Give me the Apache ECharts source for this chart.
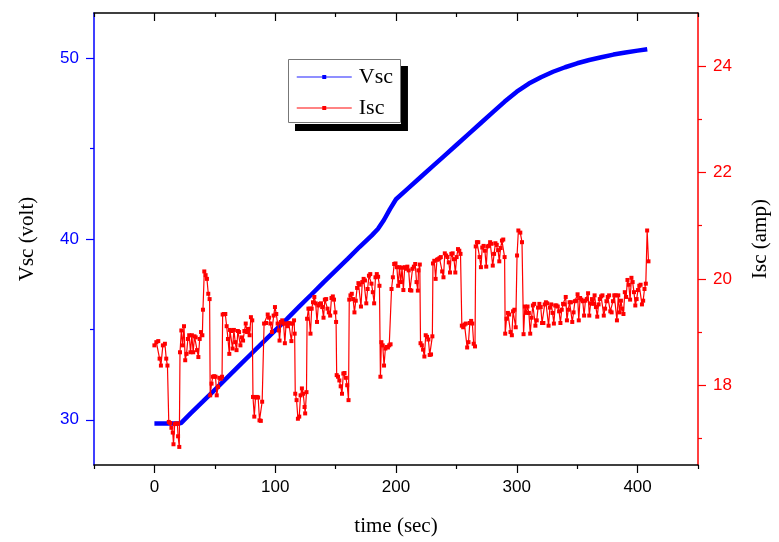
<!DOCTYPE html>
<html><head><meta charset="utf-8">
<script src="https://cdn.jsdelivr.net/npm/echarts@6/dist/echarts.min.js"></script>
<style>html,body{margin:0;padding:0;background:#fff;overflow:hidden}#c{width:779px;height:542px}</style>
</head><body><div id="c"></div>
<script>
// ---- data ----
const vscTime = [0,10,20,22,30,40,50,60,70,80,90,100,110,120,130,140,150,160,170,180,185,190,195,200,210,220,230,240,250,260,270,280,290,300,310,320,330,340,350,360,370,380,390,400,408];
const vscValue = [29.8,29.8,29.8,29.82,30.35,31.0,31.66,32.32,32.98,33.64,34.3,34.95,35.6,36.27,36.93,37.6,38.25,38.9,39.57,40.2,40.55,41.05,41.65,42.2,42.8,43.4,44.0,44.6,45.2,45.8,46.4,47.0,47.6,48.15,48.6,48.95,49.25,49.5,49.72,49.9,50.05,50.2,50.32,50.42,50.5];

const iscTime = [0,1.6,3.2,4.3,5.4,7.0,8.7,9.8,10.8,11.9,13.0,14.1,15.2,15.8,16.8,17.9,19.0,19.6,20.6,
21.2,22.3,23.4,24.5,25.5,26.6,27.7,28.8,29.9,31.0,32.1,33.2,34.2,35.3,36.4,37.5,38.6,39.7,40.2,41.3,42.4,43.5,44.6,45.7,
46.2,47.3,48.4,49.5,50.6,51.6,52.7,53.8,54.9,56.0,
56.5,57.6,58.7,59.8,60.9,62.0,62.5,63.6,64.7,65.8,66.9,68.0,69.1,70.1,71.2,72.3,73.4,74.5,75.6,76.7,77.8,78.8,79.9,81.0,
81.6,82.7,83.7,84.8,85.9,87.0,88.1,89.2,
90.8,92.4,93.8,94.9,96.0,97.3,98.7,99.8,100.9,102.0,103.0,103.6,104.7,105.8,106.9,108.0,109.0,110.1,111.2,112.3,113.4,114.5,115.6,116.1,
116.6,117.7,118.8,119.9,121.0,122.1,123.2,124.3,124.8,125.9,
126.4,127.5,128.6,129.2,130.2,131.3,132.4,133.5,134.6,135.7,136.8,137.9,138.9,140.0,141.1,142.2,143.3,144.4,145.5,146.6,147.7,148.7,149.8,150.4,
150.9,152.0,153.1,154.2,155.3,156.4,157.4,158.5,159.6,160.7,
161.3,162.3,163.4,164.5,165.6,166.7,167.8,168.9,170.0,171.0,172.1,173.2,174.3,175.4,176.5,177.6,178.7,179.7,180.8,181.9,183.0,184.1,185.2,186.3,
187.1,187.9,189.0,190.1,191.2,192.3,193.3,194.4,195.5,
196.3,197.4,198.5,199.6,200.7,201.8,202.9,204.0,205.0,206.1,207.2,208.3,209.4,210.5,211.6,212.7,213.7,214.8,215.9,217.0,218.1,218.6,219.7,
220.3,221.4,222.4,223.5,224.6,225.7,226.8,227.9,229.0,230.1,
230.6,231.7,232.8,233.9,234.9,236.0,237.1,238.2,239.3,240.4,241.5,242.6,243.7,244.7,245.8,246.9,248.0,249.1,250.2,251.3,252.4,253.4,
254.5,255.6,256.7,257.8,258.9,260.0,261.1,262.2,263.2,264.3,265.4,
266.0,267.0,268.1,269.2,270.3,271.4,272.5,273.6,274.7,275.7,276.8,277.9,279.0,280.1,281.2,282.3,283.4,284.5,285.5,286.6,287.7,288.8,289.9,
290.4,291.5,292.6,293.7,294.8,295.9,296.9,298.0,299.1,
300.2,301.3,302.9,304.3,
305.6,306.7,307.8,308.9,310.0,311.1,312.2,313.3,314.4,315.4,316.5,317.6,318.7,319.8,320.9,322.0,323.1,324.1,325.2,326.3,327.4,328.5,329.6,330.7,331.8,332.8,333.9,335.0,336.1,337.2,338.3,339.4,340.5,341.5,342.6,343.7,344.8,345.9,347.0,348.1,349.2,350.3,351.3,352.4,353.5,354.6,355.7,356.8,357.9,359.0,360.0,361.1,362.2,363.3,364.4,365.5,366.6,367.7,368.7,369.8,370.9,372.0,373.1,374.2,375.3,376.4,377.4,378.5,379.6,380.7,381.8,382.9,384.0,385.1,386.2,387.2,388.3,389.4,390.5,391.6,392.7,393.8,394.9,395.9,397.0,398.1,399.2,400.3,401.4,402.5,403.6,404.6,405.7,406.8,407.9,409.0];

const iscValue = [18.75,18.81,18.83,18.5,18.37,18.75,18.78,18.5,18.37,17.31,17.29,17.2,17.11,16.89,17.27,17.28,17.28,17.04,16.84,
18.62,19.03,18.75,19.11,18.47,18.59,18.87,18.94,18.62,18.94,18.62,18.92,18.9,18.66,18.53,18.87,19.0,18.94,19.42,20.14,20.07,20.0,19.72,19.62,
17.81,18.03,18.16,18.17,18.16,17.81,17.97,18.14,18.12,18.16,
19.33,19.34,19.34,19.11,18.87,18.59,19.04,19.02,18.69,19.04,18.81,18.66,19.02,19.0,18.75,18.9,18.84,19.02,19.16,19.0,19.06,18.94,19.28,19.22,
17.78,17.41,17.77,17.78,17.77,17.34,17.33,17.69,
19.16,19.17,19.33,19.27,19.16,19.0,19.31,19.47,19.34,19.16,19.03,18.84,19.19,19.22,19.16,18.79,19.16,19.11,19.17,19.16,18.83,19.16,19.22,18.97,
17.84,17.72,17.37,17.41,17.81,17.94,17.84,17.59,17.47,17.87,
19.25,19.44,19.44,18.97,19.44,19.56,19.66,19.54,19.19,19.5,19.53,19.54,19.47,19.27,19.61,19.62,19.44,19.37,19.31,19.64,19.67,19.61,19.37,19.19,
18.19,18.16,18.09,17.98,17.84,18.22,18.23,18.14,18.0,17.72,
19.61,19.69,19.72,19.62,19.37,19.59,19.83,19.92,19.89,19.48,19.94,20.0,19.97,19.54,19.81,20.06,20.09,19.91,19.75,19.54,20.03,20.09,20.04,19.87,
18.16,18.81,18.75,18.37,18.69,18.72,18.71,18.75,18.77,
19.81,20.03,20.28,20.29,20.22,19.87,20.22,19.94,20.21,19.79,20.22,20.19,20.23,20.16,19.79,19.78,20.19,20.23,20.28,19.94,19.78,20.16,20.27,
18.79,18.75,18.67,18.54,18.94,18.91,18.86,18.57,18.58,18.92,
20.29,20.34,20.0,20.36,20.37,20.39,20.41,20.14,20.03,20.48,20.44,20.41,20.31,20.12,20.47,20.48,20.37,20.12,20.41,20.56,20.53,20.47,
19.12,19.09,19.14,19.16,18.71,18.81,19.17,19.21,19.16,18.78,18.73,
20.61,20.69,20.69,20.41,20.22,20.59,20.62,20.53,20.23,20.61,20.62,20.69,20.66,20.25,20.47,20.67,20.64,20.54,20.33,20.58,20.72,20.74,20.41,
18.97,19.25,19.36,19.33,19.0,18.94,19.39,19.42,19.09,
20.44,20.91,20.87,20.69,
18.96,19.48,19.36,19.48,19.36,18.97,19.27,19.5,19.53,19.12,19.22,19.46,19.53,19.47,19.17,19.17,19.52,19.56,19.54,19.12,19.46,19.52,19.36,19.16,19.5,19.5,19.48,19.39,19.17,19.42,19.53,19.52,19.66,19.22,19.42,19.56,19.56,19.19,19.37,19.58,19.59,19.71,19.22,19.64,19.61,19.58,19.31,19.59,19.62,19.73,19.31,19.54,19.62,19.53,19.69,19.47,19.29,19.52,19.62,19.67,19.69,19.31,19.44,19.58,19.66,19.69,19.39,19.37,19.58,19.69,19.69,19.22,19.69,19.37,19.59,19.44,19.34,19.75,19.66,19.98,19.89,19.61,20.02,19.94,19.75,19.5,19.62,19.79,19.87,19.89,19.52,19.59,19.81,19.91,20.91,20.33];

const xMajorTicks = [0,100,200,300,400];
const xMinorTicks = [-50,50,150,250,350,450];
const vscMajorTicks = [30,40,50];
const vscMinorTicks = [35,45];
const iscMajorTicks = [18,20,22,24];
const iscMinorTicks = [17,19,21,23];

// ---- chart ----
const SANS = 'Liberation Sans, Arial, sans-serif';
const SERIF = 'Liberation Serif, Times New Roman, serif';
const BLUE = '#0000ff', RED = '#ff0000';

function xAx(pos, ticks, len, inside, showLine, labels, extra) {
  return Object.assign({
    type: 'value', position: pos, min: -50, max: 450,
    splitLine: {show: false},
    axisLine: {show: showLine, onZero: false, lineStyle: {color: '#000', width: 1.5}},
    axisTick: {show: true, customValues: ticks, length: len, inside: inside, lineStyle: {color: '#000', width: 1.2}},
    axisLabel: labels ? {show: true, customValues: labels, color: '#000', fontFamily: SANS, fontSize: 17, margin: 14} : {show: false}
  }, extra || {});
}
function yAx(pos, min, max, color, ticks, len, showLine, labels, extra) {
  return Object.assign({
    type: 'value', position: pos, min: min, max: max,
    splitLine: {show: false},
    axisLine: {show: showLine, onZero: false, lineStyle: {color: color, width: 1.5}},
    axisTick: {show: true, customValues: ticks, length: len, lineStyle: {color: color, width: 1.2}},
    axisLabel: labels ? {show: true, customValues: labels, color: color, fontFamily: SANS, fontSize: 17, margin: 15} : {show: false}
  }, extra || {});
}
const nameStyle = {fontFamily: SERIF, fontSize: 21, color: '#000'};

const chart = echarts.init(document.getElementById('c'), null, {renderer: 'canvas', width: 779, height: 542});
chart.setOption({
  animation: false,
  backgroundColor: '#fff',
  grid: {left: 94, right: 72, top: 13, bottom: 75, containLabel: false},
  xAxis: [
    xAx('bottom', xMajorTicks, 8, false, true, xMajorTicks,
        {name: 'time (sec)', nameLocation: 'middle', nameGap: 51, nameTextStyle: nameStyle}),
    xAx('bottom', xMinorTicks, 4, false, false, null),
    xAx('top', xMajorTicks, 8, true, true, null),
    xAx('top', xMinorTicks, 4, true, false, null)
  ],
  yAxis: [
    yAx('left', 27.5, 52.5, BLUE, vscMajorTicks, 8, true, vscMajorTicks,
        {name: 'Vsc (volt)', nameLocation: 'middle', nameGap: 56, nameTextStyle: nameStyle}),
    yAx('right', 16.5, 25, RED, iscMajorTicks, 8, true, iscMajorTicks,
        {name: 'Isc (amp)', nameLocation: 'middle', nameGap: 52, nameRotate: 90, nameTextStyle: nameStyle}),
    yAx('left', 27.5, 52.5, BLUE, vscMinorTicks, 4, false, null),
    yAx('right', 16.5, 25, RED, iscMinorTicks, 4, false, null)
  ],
  legend: {
    data: [
      {name: 'Vsc', lineStyle: {color: '#6a6aff', width: 1.5}},
      {name: 'Isc', lineStyle: {color: '#ff5a5a', width: 1.5}}
    ],
    orient: 'vertical', left: 288, top: 59,
    itemWidth: 55, itemHeight: 5, itemGap: 9, padding: [7, 8, 5, 8],
    backgroundColor: '#fff', borderWidth: 0,
    shadowColor: '#000', shadowOffsetX: 7, shadowOffsetY: 7, shadowBlur: 0,
    selectedMode: false,
    textStyle: {fontFamily: SERIF, fontSize: 22, color: '#000', padding: [0, 0, 0, 2]},
    lineStyle: {width: 1.5}
  },
  graphic: [{
    type: 'rect', z: 100, silent: true,
    shape: {x: 288.5, y: 59.5, width: 112, height: 63},
    style: {fill: null, stroke: '#777', lineWidth: 1}
  }],
  series: [
    {
      name: 'Vsc', type: 'line', xAxisIndex: 0, yAxisIndex: 0,
      data: vscTime.map((t, i) => [t, vscValue[i]]),
      color: BLUE, symbol: 'rect', symbolSize: 4, showSymbol: false,
      lineStyle: {color: BLUE, width: 4.5}, itemStyle: {color: BLUE}, z: 2
    },
    {
      name: 'Isc', type: 'line', xAxisIndex: 0, yAxisIndex: 1,
      data: iscTime.map((t, i) => [t, iscValue[i]]),
      color: RED, symbol: 'rect', symbolSize: 4, showSymbol: true,
      lineStyle: {color: RED, width: 1.2}, itemStyle: {color: RED}, z: 3
    }
  ]
});
</script>
</body></html>
